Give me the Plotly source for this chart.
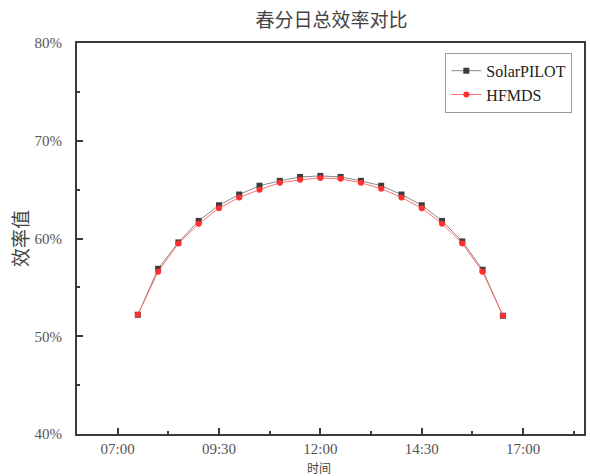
import plotly.graph_objects as go

# Sample times (equinox day) and total efficiency of the two models, in percent
times = ["07:30", "08:00", "08:30", "09:00", "09:30", "10:00", "10:30", "11:00",
         "11:30", "12:00", "12:30", "13:00", "13:30", "14:00", "14:30", "15:00",
         "15:30", "16:00", "16:30"]
solarpilot = [52.2, 56.9, 59.6, 61.8, 63.4, 64.5, 65.4, 65.9, 66.3, 66.4,
              66.3, 65.9, 65.4, 64.5, 63.4, 61.8, 59.7, 56.8, 52.1]
hfmds = [52.2, 56.6, 59.5, 61.5, 63.1, 64.2, 65.0, 65.7, 66.0, 66.2,
         66.1, 65.7, 65.1, 64.2, 63.1, 61.5, 59.5, 56.6, 52.1]

day = "2024-03-20 "
x = [day + t for t in times]

SERIF = "Liberation Serif, Times New Roman, Noto Sans CJK SC, serif"
CJK = "Noto Sans CJK SC, sans-serif"
AXIS = "#3a3a3a"

fig = go.Figure()
fig.add_trace(go.Scatter(
    x=x, y=[v / 100 for v in solarpilot], name="SolarPILOT",
    mode="lines+markers",
    line=dict(color="#8a8a8a", width=1),
    marker=dict(symbol="square", size=6, color="#3c3c3c"),
))
fig.add_trace(go.Scatter(
    x=x, y=[v / 100 for v in hfmds], name="HFMDS",
    mode="lines+markers",
    line=dict(color="#ff7070", width=1),
    marker=dict(symbol="circle", size=6, color="#ff3030"),
))

fig.update_layout(
    width=590, height=476,
    margin=dict(l=77, r=4, t=43, b=42),
    paper_bgcolor="white", plot_bgcolor="white",
    title=dict(text="春分日总效率对比", x=0.562, xanchor="center",
               y=0.958, yanchor="middle",
               font=dict(family=CJK, size=19, color="#444444")),
    showlegend=True,
    legend=dict(x=0.977, y=0.975, xanchor="right", yanchor="top",
                bgcolor="white", bordercolor="#9a9a9a", borderwidth=1,
                font=dict(family=SERIF, size=16, color="#222222"),
                tracegroupgap=0, itemwidth=30),
)

fig.update_xaxes(
    type="date",
    range=[day + "06:00", day + "18:30"],
    tick0=day + "07:00", dtick=150 * 60 * 1000,
    tickformat="%H:%M",
    ticks="inside", ticklen=6, tickwidth=2, tickcolor=AXIS,
    minor=dict(ticks="inside", ticklen=3, tickwidth=2, tickcolor=AXIS,
               dtick=75 * 60 * 1000, tick0=day + "07:00", showgrid=False),
    showline=True, linecolor=AXIS, linewidth=2, mirror=True,
    showgrid=False, zeroline=False,
    ticklabelstandoff=0,
    tickfont=dict(family=SERIF, size=15, color="#555555"),
)

fig.update_yaxes(
    range=[0.4, 0.8], dtick=0.1, tick0=0.4, tickformat=".0%",
    ticks="inside", ticklen=6, tickwidth=2, tickcolor=AXIS,
    minor=dict(ticks="inside", ticklen=3, tickwidth=2, tickcolor=AXIS,
               dtick=0.05, showgrid=False),
    showline=True, linecolor=AXIS, linewidth=2, mirror=True,
    showgrid=False, zeroline=False,
    ticklabelstandoff=10,
    tickfont=dict(family=SERIF, size=15, color="#555555"),
    title=dict(text="效率值", standoff=1,
               font=dict(family=CJK, size=19, color="#444444")),
)

# x-axis title sits along the bottom edge of the page
fig.add_annotation(
    text="时间", xref="paper", yref="paper", x=0.478, y=-0.1087,
    xanchor="center", yanchor="bottom", showarrow=False, borderpad=0,
    font=dict(family=CJK, size=12, color="#444444"),
)

fig.write_html("out.html")
